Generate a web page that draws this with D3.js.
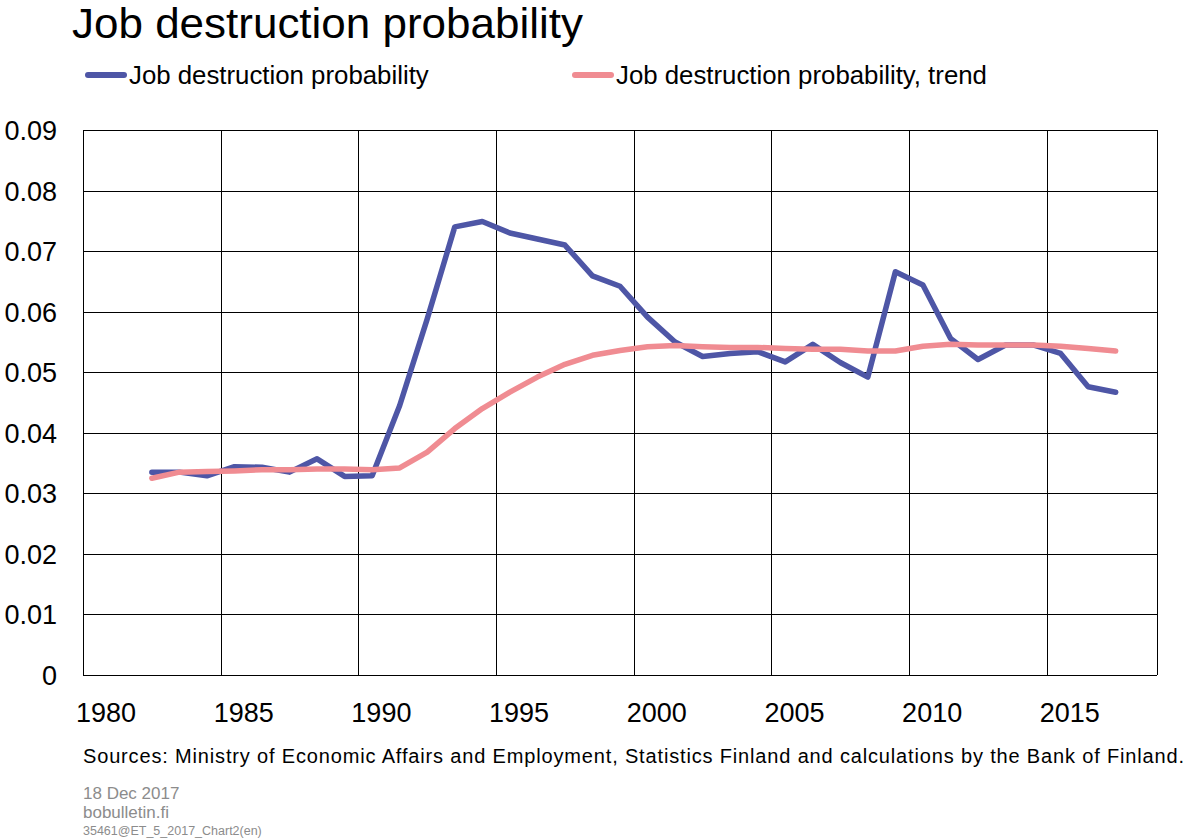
<!DOCTYPE html>
<html>
<head>
<meta charset="utf-8">
<script src="https://cdn.jsdelivr.net/npm/d3@7"></script>
<style>
  body { margin: 0; background: #fff; }
  text { font-family: "Liberation Sans", Arial, sans-serif; }
</style>
</head>
<body>
<script>
// chart data
var years = d3.range(1982, 2018);
var jobDestruction = [
  0.0335, 0.0335, 0.0329, 0.0344, 0.0343, 0.0335, 0.0357, 0.0328, 0.0329, 0.0445,
  0.0588, 0.0740, 0.0749, 0.0730, 0.0720, 0.0710, 0.0659, 0.0642, 0.0591, 0.0550,
  0.0526, 0.0531, 0.0534, 0.0517, 0.0546, 0.0516, 0.0492, 0.0666, 0.0644, 0.0556,
  0.0521, 0.0545, 0.0545, 0.0531, 0.0476, 0.0467
];
var jobDestructionTrend = [
  0.0325, 0.0335, 0.0336, 0.0337, 0.0339, 0.0339, 0.0340, 0.0340, 0.0339, 0.0342,
  0.0368, 0.0407, 0.0440, 0.0467, 0.0492, 0.0513, 0.0528, 0.0536, 0.0542, 0.0544,
  0.0542, 0.0541, 0.0541, 0.0539, 0.0538, 0.0538, 0.0535, 0.0535, 0.0543, 0.0546,
  0.0545, 0.0545, 0.0545, 0.0543, 0.0539, 0.0535
];
var xTickYears = [1980, 1985, 1990, 1995, 2000, 2005, 2010, 2015];
var yTickValues = [0, 0.01, 0.02, 0.03, 0.04, 0.05, 0.06, 0.07, 0.08, 0.09];
var seriesNames = ['Job destruction probability', 'Job destruction probability, trend'];
var seriesColors = ['#4e56a6', '#f08c92'];

var width = 1186, height = 839;
var margin = { left: 83, right: 29, top: 130, bottom: 165 };

var svg = d3.select('body').append('svg').attr('width', width).attr('height', height);

var x = d3.scaleLinear().domain([1980, 2019]).range([margin.left, width - margin.right]);
var y = d3.scaleLinear().domain([0, 0.09]).range([height - margin.bottom + 1, margin.top]);

// title
svg.append('text').attr('x', 72).attr('y', 38)
   .attr('font-size', 42).attr('fill', '#000')
   .attr('textLength', 511).attr('lengthAdjust', 'spacingAndGlyphs')
   .text('Job destruction probability');

// legend
var legendX = [88, 575];
seriesNames.forEach(function (name, i) {
  svg.append('line')
     .attr('x1', legendX[i]).attr('x2', legendX[i] + 36)
     .attr('y1', 75).attr('y2', 75)
     .attr('stroke', seriesColors[i]).attr('stroke-width', 6).attr('stroke-linecap', 'round');
  svg.append('text').attr('x', legendX[i] + 41).attr('y', 84)
     .attr('font-size', 25.8).text(name);
});

// gridlines
svg.append('g').selectAll('line.h')
   .data(yTickValues)
   .enter().append('line')
   .attr('x1', x(1980)).attr('x2', x(2019))
   .attr('y1', function (d) { return Math.round(y(d)) + 0.5; })
   .attr('y2', function (d) { return Math.round(y(d)) + 0.5; })
   .attr('stroke', '#000').attr('stroke-width', 1);

svg.append('g').selectAll('line.v')
   .data(xTickYears.concat([2019]))
   .enter().append('line')
   .attr('x1', function (d) { return Math.round(x(d)) + 0.5; })
   .attr('x2', function (d) { return Math.round(x(d)) + 0.5; })
   .attr('y1', y(0.09)).attr('y2', y(0))
   .attr('stroke', '#000').attr('stroke-width', 1);

// axis labels
svg.append('g').selectAll('text')
   .data(yTickValues)
   .enter().append('text')
   .attr('x', 57).attr('y', function (d) { return y(d) + 10; })
   .attr('text-anchor', 'end').attr('font-size', 27)
   .text(function (d) { return d === 0 ? '0' : d3.format('.2f')(d); });

svg.append('g').selectAll('text')
   .data(xTickYears)
   .enter().append('text')
   .attr('x', function (d) { return x(d) + 23; })
   .attr('y', 722)
   .attr('text-anchor', 'middle').attr('font-size', 27)
   .text(function (d) { return d; });

// lines, points sit at mid-year
var line = d3.line()
  .x(function (d, i) { return x(years[i] + 0.5); })
  .y(function (d) { return y(d); });

[jobDestruction, jobDestructionTrend].forEach(function (series, i) {
  svg.append('path')
     .datum(series)
     .attr('d', line)
     .attr('fill', 'none')
     .attr('stroke', seriesColors[i])
     .attr('stroke-width', 5.5)
     .attr('stroke-linejoin', 'round')
     .attr('stroke-linecap', 'round');
});

// footer
svg.append('text').attr('x', 83).attr('y', 763).attr('font-size', 20)
   .attr('textLength', 1101).attr('lengthAdjust', 'spacing')
   .text('Sources: Ministry of Economic Affairs and Employment, Statistics Finland and calculations by the Bank of Finland.');
svg.append('text').attr('x', 83).attr('y', 799).attr('font-size', 17).attr('fill', '#8c8c8c').text('18 Dec 2017');
svg.append('text').attr('x', 83).attr('y', 818).attr('font-size', 17).attr('fill', '#8c8c8c').text('bobulletin.fi');
svg.append('text').attr('x', 83).attr('y', 835).attr('font-size', 12.5).attr('fill', '#8c8c8c').text('35461@ET_5_2017_Chart2(en)');
</script>
</body>
</html>
